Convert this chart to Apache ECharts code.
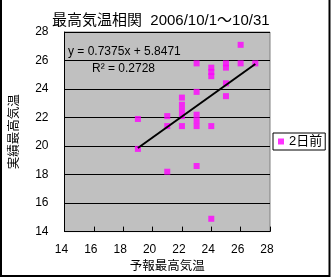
<!DOCTYPE html>
<html>
<head>
<meta charset="utf-8">
<script src="https://cdn.jsdelivr.net/npm/echarts@6/dist/echarts.min.js"></script>
<style>
html,body{margin:0;padding:0;background:#fff;}
#c{width:331px;height:278px;}
</style>
</head>
<body>
<div id="c"></div>
<script>
// forecast max temperature (x) and actual max temperature (y), 2006/10/1-10/31
var forecast = [19, 19, 21, 21, 21, 22, 22, 22, 22, 22, 23, 23, 23, 23, 23, 23, 24, 24, 24, 24, 24, 25, 25, 25, 25, 26, 26, 27];
var actual   = [21.9, 19.8, 22.1, 21.4, 18.2, 23.4, 22.9, 22.5, 22.1, 21.4, 25.8, 23.8, 22.2, 21.8, 21.4, 18.6, 25.5, 25.2, 24.9, 21.4, 14.9, 25.8, 25.5, 24.4, 23.5, 27.1, 25.8, 25.8];
var xTicks = [14, 16, 18, 20, 22, 24, 26, 28];
var yTicks = [14, 16, 18, 20, 22, 24, 26, 28];
var slope = 0.7375, intercept = 5.8471, r2 = 0.2728;
var seriesName = '2日前';
var titleText = '最高気温相関  2006/10/1～10/31';
var xName = '予報最高気温';
var yName = '実績最高気温';

var pts = forecast.map(function (x, i) { return [x, actual[i]]; });
var xMin = Math.min.apply(null, forecast), xMax = Math.max.apply(null, forecast);
var trend = [[xMin, slope * xMin + intercept], [xMax, slope * xMax + intercept]];

var FONT = '"Liberation Sans", "Noto Sans CJK JP", sans-serif';
var chart = echarts.init(document.getElementById('c'), null, {renderer: 'canvas'});
chart.setOption({
  animation: false,
  backgroundColor: '#ffffff',
  textStyle: {fontFamily: FONT, color: '#000'},
  title: {
    text: titleText, left: 52, top: 13, padding: 0,
    textStyle: {fontSize: 15, fontWeight: 'normal', color: '#000', fontFamily: FONT}
  },
  legend: {
    data: [seriesName], left: 273, top: 133, orient: 'vertical',
    backgroundColor: '#fff', borderColor: '#000', borderWidth: 1,
    padding: [2, 3, 2, 5], itemWidth: 6, itemHeight: 6, itemGap: 0,
    icon: 'rect',
    textStyle: {fontSize: 13, color: '#000', fontFamily: FONT}
  },
  grid: {
    left: 63, top: 32, width: 207, height: 200,
    show: true, backgroundColor: '#c0c0c0', borderColor: '#808080', borderWidth: 1
  },
  xAxis: {
    type: 'value', min: xTicks[0], max: xTicks[xTicks.length - 1], interval: 2,
    name: xName, nameLocation: 'middle', nameGap: 25,
    nameTextStyle: {fontSize: 12.5, color: '#000', fontFamily: FONT},
    axisLine: {show: true, lineStyle: {color: '#000', width: 1}},
    axisTick: {show: true, inside: true, length: 5, lineStyle: {color: '#000'}},
    axisLabel: {fontSize: 12, color: '#000', margin: 12, padding: [0, 6, 0, 0], fontFamily: FONT},
    splitLine: {show: false}
  },
  yAxis: {
    type: 'value', min: yTicks[0], max: yTicks[yTicks.length - 1], interval: 2,
    name: yName, nameLocation: 'middle', nameGap: 44, nameRotate: 90,
    nameTextStyle: {fontSize: 12.5, color: '#000', fontFamily: FONT},
    axisLine: {show: true, lineStyle: {color: '#000', width: 1}},
    axisTick: {show: true, inside: true, length: 5, lineStyle: {color: '#000'}},
    axisLabel: {fontSize: 12, color: '#000', margin: 16, fontFamily: FONT},
    splitLine: {show: true, lineStyle: {color: '#000', width: 1}}
  },
  series: [
    {
      name: seriesName, type: 'scatter', data: pts,
      symbol: 'rect', symbolSize: 6,
      itemStyle: {color: '#ff00ff'}, z: 2
    },
    {
      name: 'trend', type: 'line', data: trend, showSymbol: false, symbol: 'none',
      lineStyle: {color: '#000', width: 2}, z: 3, silent: true
    }
  ],
  graphic: [
    {type: 'text', left: 68, top: 46, z: 10,
     style: {text: 'y = ' + slope + 'x + ' + intercept, fontSize: 12, fill: '#000', font: '12px ' + FONT}},
    {type: 'text', left: 92, top: 63, z: 10,
     style: {text: 'R² = ' + r2, fill: '#000', font: '12px ' + FONT}},
    {type: 'rect', shape: {x: 1, y: -5, width: 328.5, height: 281}, z: 20, silent: true,
     style: {fill: 'none', stroke: '#000', lineWidth: 2}}
  ]
});
</script>
</body>
</html>
